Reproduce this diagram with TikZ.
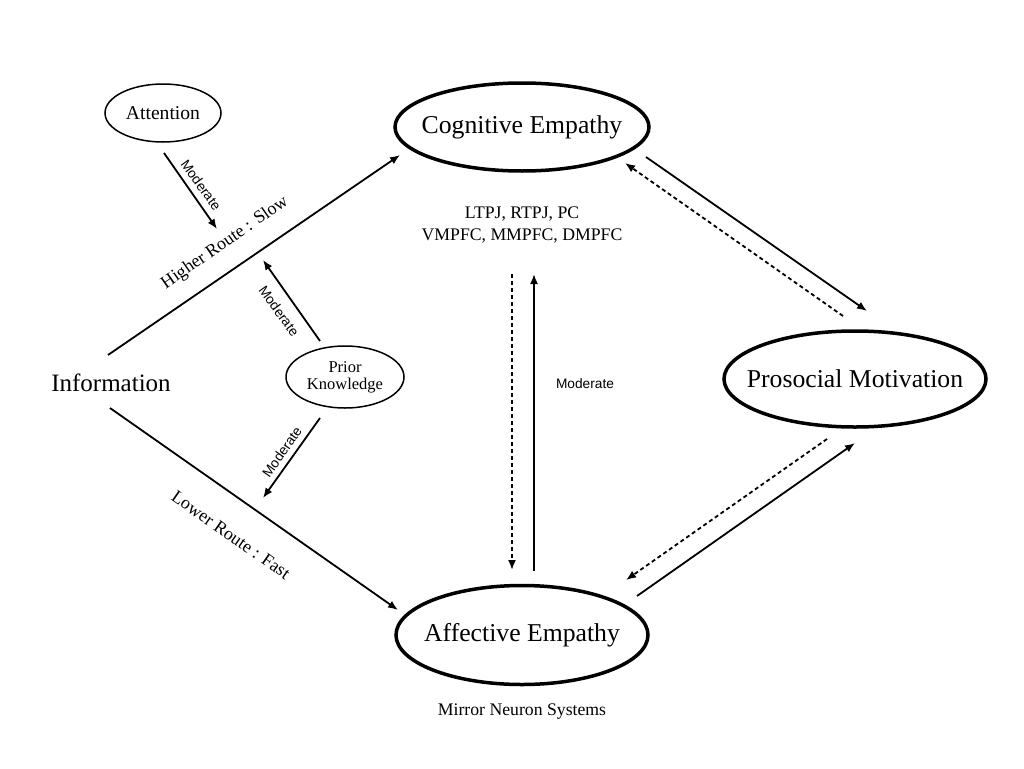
\documentclass[tikz,border=0pt]{standalone}
\usepackage{fontspec}
\setmainfont{Liberation Serif}
\setsansfont{Liberation Sans}
\usetikzlibrary{shapes.geometric,arrows.meta,calc}

\begin{document}
\begin{tikzpicture}[x=1pt,y=-1pt,
  big/.style={draw=black,ellipse,line width=3.5pt,inner sep=0pt},
  small/.style={draw=black,ellipse,line width=1.5pt,inner sep=0pt,align=center},
  every label/.style={font=\fontsize{25.7}{30}\selectfont},
  route/.style={font=\fontsize{18}{22}\selectfont},
  mod/.style={font=\sffamily\fontsize{13.7}{16}\selectfont,inner sep=1pt},
  arr/.style={line width=1.8pt,-{Latex[length=10pt,width=8pt]}},
  dasharr/.style={arr,dash pattern=on 4pt off 3pt}]

\useasboundingbox (0,0) rectangle (1024,768);

\node[big,minimum width=254pt,minimum height=88pt,label=center:Cognitive Empathy]    (cog) at (522,127) {};
\node[big,minimum width=252pt,minimum height=99pt,label=center:Affective Empathy]    (aff) at (522,635) {};
\node[big,minimum width=262pt,minimum height=96pt,label=center:Prosocial Motivation] (pro) at (855,379) {};

\node[small,minimum width=116pt,minimum height=58pt,font=\fontsize{19.6}{22}\selectfont] (att) at (163,113) {Attention};
\node[small,minimum width=118pt,minimum height=62pt,font=\fontsize{16.5}{17}\selectfont] (pk)  at (345,377) {Prior\\Knowledge};

\node[font=\fontsize{25}{30}\selectfont] (info) at (111,383) {Information};

\node[align=center,font=\fontsize{17.7}{22}\selectfont] (regions) at (522,225) {LTPJ, RTPJ, PC\\VMPFC, MMPFC, DMPFC};
\node[font=\fontsize{17.7}{22}\selectfont]              (mirror)  at (522,712) {Mirror Neuron Systems};

\node[route,rotate=34.8] (hiroute) at (225,243) {Higher Route : Slow};
\node[route,rotate=-35]  (loroute) at (231,535) {Lower Route : Fast};

\node[mod,rotate=-54] (mod1) at (201,185) {Moderate};
\node[mod,rotate=-54] (mod2) at (279,311) {Moderate};
\node[mod,rotate=55]  (mod3) at (282,452) {Moderate};
\node[mod]            (mod4) at (585,384) {Moderate};

\coordinate (attend) at (217,229);
\coordinate (hiend)  at (263,260);
\coordinate (loend)  at (263,498);

\draw[arr] ($(info)+(-3,-28)$) -- ($(cog)+(-122,28)$);
\draw[arr] ($(info)+(-1,25)$)  -- ($(aff)+(-124,-25)$);

\draw[arr] ($(att)+(1,40)$)   -- (attend);
\draw[arr] ($(pk)+(-25,-36)$) -- (hiend);
\draw[arr] ($(pk)+(-25,41)$)  -- (loend);

\draw[dasharr] ($(regions)+(-10,49)$) -- ($(aff)+(-10,-65)$);
\draw[arr]     ($(aff)+(12,-64)$)     -- ($(regions)+(12,49)$);

\draw[arr]     ($(cog)+(124,30)$)  -- ($(pro)+(12,-68)$);
\draw[dasharr] ($(pro)+(-12,-63)$) -- ($(cog)+(103,36)$);
\draw[dasharr] ($(pro)+(-28,60)$)  -- ($(aff)+(104,-55)$);
\draw[arr]     ($(aff)+(115,-39)$) -- ($(pro)+(0,64)$);

\end{tikzpicture}
\end{document}
